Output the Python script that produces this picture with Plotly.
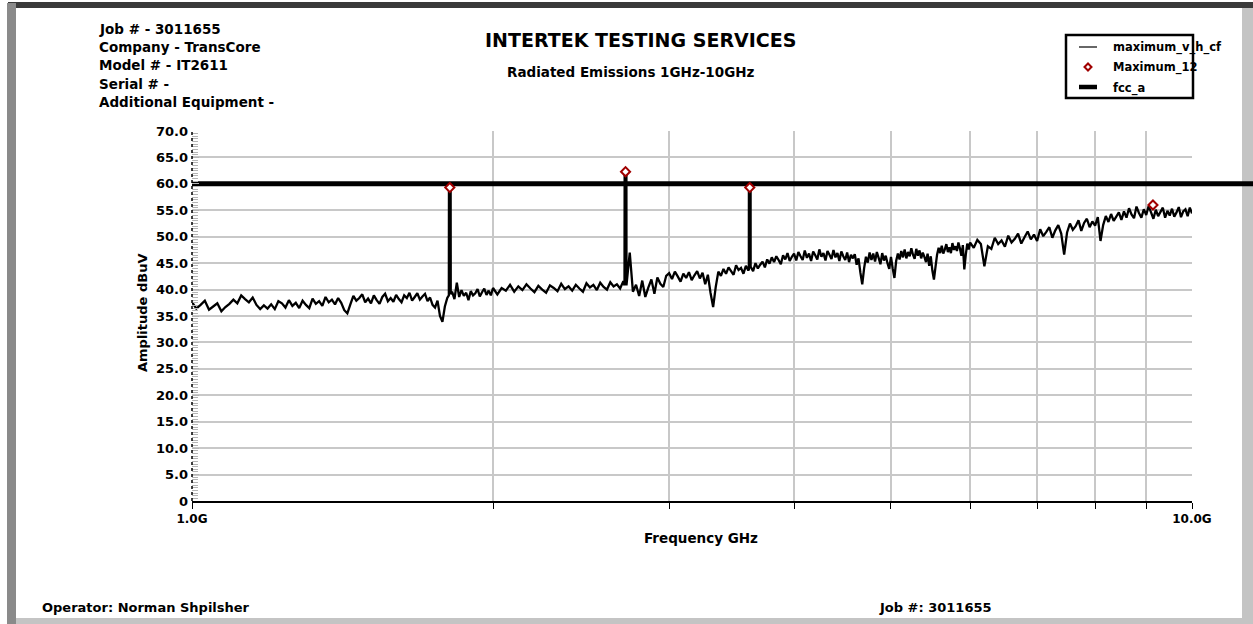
import plotly.graph_objects as go

# ---------------- data ----------------
freq_a = [1.00, 1.01, 1.02, 1.03, 1.04, 1.05, 1.06, 1.07, 1.08, 1.09,
          1.10, 1.11, 1.12, 1.13, 1.14, 1.15, 1.16, 1.17, 1.18, 1.19,
          1.20, 1.21, 1.22, 1.23, 1.24, 1.25, 1.26, 1.27, 1.28, 1.29,
          1.30, 1.31, 1.32, 1.33, 1.34, 1.35, 1.36, 1.37, 1.38, 1.39,
          1.40, 1.41, 1.42, 1.43, 1.44, 1.45, 1.46, 1.47, 1.48, 1.49,
          1.50, 1.51, 1.52, 1.53, 1.54, 1.55, 1.56, 1.57, 1.58, 1.59,
          1.60, 1.61, 1.62, 1.63, 1.64, 1.65, 1.66, 1.67, 1.68, 1.69,
          1.70, 1.71, 1.72, 1.73, 1.74, 1.75, 1.76, 1.77, 1.78, 1.79,
          1.80, 1.82, 1.83, 1.84, 1.85, 1.86, 1.87, 1.88, 1.89,
          1.90, 1.91, 1.92, 1.93, 1.94, 1.95, 1.96, 1.97, 1.98, 1.99, 2.00]
amp_a = [37.6, 36.4, 37.1, 37.9, 36.2, 36.8, 37.4, 35.9, 36.7, 37.3,
         38.1, 37.4, 38.9, 38.2, 37.6, 38.5, 37.1, 36.3, 37.0, 36.4,
         37.2, 36.3, 37.8, 37.4, 36.6, 38.0, 36.9, 37.5, 36.5, 37.9,
         37.1, 36.5, 38.3, 37.3, 37.8, 36.9, 38.6, 37.6, 38.1, 37.2,
         38.4, 37.5, 36.1, 35.5, 37.2, 38.8, 37.9, 38.4, 39.1, 37.6,
         38.3, 37.4, 38.9, 38.0, 37.3, 38.6, 39.2, 37.8, 38.4, 37.7,
         39.0, 38.2, 37.6, 38.9, 38.4, 39.4, 37.9, 38.6, 39.3, 38.1,
         38.7, 39.2, 37.8, 38.5, 37.1, 36.6, 37.9, 35.0, 33.9, 36.8,
         38.4, 39.6, 38.2, 41.3, 38.6, 39.9, 38.8, 39.4, 38.0,
         39.7, 38.9, 39.3, 40.1, 38.7, 39.5, 40.2, 39.0, 39.8, 38.9, 40.3]

freq_b = [2.02, 2.04, 2.06, 2.08, 2.10, 2.12, 2.14, 2.16, 2.18, 2.20,
          2.22, 2.24, 2.26, 2.28, 2.30, 2.32, 2.34, 2.36, 2.38, 2.40,
          2.42, 2.44, 2.46, 2.48, 2.50, 2.52, 2.54, 2.56, 2.58, 2.60,
          2.62, 2.64, 2.66, 2.68, 2.70, 2.72, 2.74, 2.76, 2.78, 2.80,
          2.82, 2.84, 2.86, 2.88, 2.90, 2.92, 2.94, 2.96, 2.98, 3.00,
          3.02, 3.04, 3.06, 3.08, 3.10, 3.12, 3.14, 3.16, 3.18, 3.20,
          3.22, 3.24, 3.26, 3.28, 3.30, 3.32, 3.34, 3.36, 3.38, 3.40,
          3.42, 3.44, 3.46, 3.48, 3.50, 3.52, 3.54, 3.56, 3.58, 3.60,
          3.62, 3.64, 3.66, 3.68, 3.70, 3.72, 3.74, 3.76, 3.78, 3.80,
          3.82, 3.84, 3.86, 3.88, 3.90, 3.92, 3.94, 3.96, 3.98, 4.00]
amp_b = [39.1, 40.3, 39.8, 40.9, 39.6, 40.6, 39.9, 41.0, 40.2, 39.5,
         40.7, 40.0, 39.4, 40.8, 40.3, 39.7, 41.1, 40.1, 40.6, 39.8,
         40.9, 40.2, 39.6, 41.2, 40.4, 40.9, 39.9, 41.3, 40.5, 40.0,
         41.4, 40.6, 41.0, 40.2, 41.6, 41.0, 47.0, 39.6, 40.9, 38.8,
         41.7, 38.6, 40.4, 41.9, 39.2, 42.3, 41.1, 40.5, 42.6, 43.1,
         42.0, 43.4, 42.5, 41.5, 43.0, 42.2, 43.3, 41.8, 42.7, 43.5,
         42.1, 43.2, 41.0, 42.8, 39.4, 36.7, 40.5, 43.4, 42.6, 43.9,
         43.0, 44.2, 43.5, 42.8, 44.6, 43.7, 44.1, 43.0, 44.5, 43.6,
         44.3, 43.5, 45.0, 44.0, 44.7, 45.3, 44.2, 45.7, 44.9, 46.1,
         45.2, 46.3, 45.6, 44.8, 46.5, 45.7, 46.9, 45.4, 46.2, 46.8]

freq_c = [4.02, 4.04, 4.06, 4.08, 4.10, 4.12, 4.14, 4.16, 4.18, 4.20,
          4.22, 4.24, 4.26, 4.28, 4.30, 4.32, 4.34, 4.36, 4.38, 4.40,
          4.42, 4.44, 4.46, 4.48, 4.50, 4.52, 4.54, 4.56, 4.58, 4.60,
          4.62, 4.64, 4.66, 4.68, 4.70, 4.72, 4.74, 4.76, 4.78, 4.80,
          4.82, 4.84, 4.86, 4.88, 4.90, 4.92, 4.94, 4.96, 4.98, 5.00,
          5.02, 5.04, 5.06, 5.08, 5.10, 5.12, 5.14, 5.16, 5.18, 5.20,
          5.22, 5.24, 5.26, 5.28, 5.30, 5.32, 5.34, 5.36, 5.38, 5.40,
          5.42, 5.44, 5.46, 5.48, 5.50, 5.52, 5.54, 5.56, 5.58, 5.60,
          5.62, 5.64, 5.66, 5.68, 5.70, 5.72, 5.74, 5.76, 5.78, 5.80,
          5.82, 5.84, 5.86, 5.88, 5.90, 5.92, 5.94, 5.96, 5.98, 6.00]
amp_c = [45.5, 47.1, 46.3, 45.6, 47.4, 46.0, 46.8, 45.4, 47.2, 46.5,
         45.7, 47.6, 46.2, 46.9, 45.5, 47.3, 46.6, 45.8, 47.5, 46.1,
         46.9, 45.4, 47.2, 46.3, 45.6, 47.0, 45.2, 46.6, 45.9, 46.7,
         44.7, 45.9, 43.2, 41.0, 44.0, 46.2, 45.1, 47.0, 45.6, 46.8,
         45.3, 47.1, 46.0, 44.8, 46.9, 45.5, 46.4, 45.0, 43.9, 46.2,
         44.0, 42.2, 45.4, 46.8, 45.7, 47.3, 46.1, 47.6, 45.9, 47.1,
         46.3, 47.8, 46.6, 45.8, 47.7, 46.4, 47.4, 45.9, 47.0, 46.2,
         45.2, 46.8, 44.5, 46.3, 43.6, 41.9, 44.3, 46.6, 47.9, 46.9,
         48.3, 46.8, 47.6, 48.6, 47.1, 48.0, 46.9, 48.8, 47.5, 48.2,
         47.3, 48.9, 47.8, 46.4, 48.4, 43.8, 46.6, 48.7, 47.6, 48.9]

freq_d = [6.05, 6.10, 6.15, 6.20, 6.25, 6.30, 6.35, 6.40, 6.45, 6.50,
          6.55, 6.60, 6.65, 6.70, 6.75, 6.80, 6.85, 6.90, 6.95, 7.00,
          7.05, 7.10, 7.15, 7.20, 7.25, 7.30, 7.35, 7.40, 7.45, 7.50,
          7.55, 7.60, 7.65, 7.70, 7.75, 7.80, 7.85, 7.90, 7.95, 8.00,
          8.05, 8.10, 8.15, 8.20, 8.25, 8.30, 8.35, 8.40, 8.45, 8.50,
          8.55, 8.60, 8.65, 8.70, 8.75, 8.80, 8.85, 8.90, 8.95, 9.00,
          9.05, 9.10, 9.15, 9.20, 9.25, 9.30, 9.35, 9.40, 9.45, 9.50,
          9.55, 9.60, 9.65, 9.70, 9.75, 9.80, 9.85, 9.90, 9.95, 10.00]
amp_d = [47.9, 49.4, 48.6, 44.4, 48.2, 47.7, 49.8, 48.6, 49.3, 48.1,
         50.2, 48.9, 49.6, 50.6, 48.7, 49.9, 51.0, 49.5, 50.4, 49.2,
         51.4, 50.1, 50.9, 51.8, 49.8, 51.2, 52.2, 50.6, 46.6, 50.8,
         52.5, 51.3, 52.0, 53.1, 51.1, 52.6, 53.4, 51.8, 52.9, 52.1,
         53.7, 49.2, 52.2, 53.9, 52.8, 54.3, 53.0, 53.8, 54.6, 53.2,
         54.8, 53.6, 55.4, 54.2, 53.5, 55.7, 54.5, 53.6, 55.2, 54.1,
         55.8, 54.6, 53.4, 55.1, 53.9, 54.7, 55.5, 53.6, 54.9, 54.0,
         55.3, 53.8, 54.6, 55.6, 53.7, 54.8, 55.2, 53.9, 55.5, 54.4]

# narrow emission spikes (harmonics)
spike_freq = [1.8065, 1.807, 1.814, 1.8145,
              2.707, 2.708, 2.719, 2.7195,
              3.6045, 3.605, 3.619, 3.6195]
spike_amp = [38.9, 59.2, 59.0, 39.1,
             40.8, 62.0, 62.3, 41.0,
             43.8, 59.3, 59.1, 44.0]

# peak markers (Maximum_12)
max_freq = [1.8105, 2.7135, 3.612, 9.14]
max_amp = [59.3, 62.3, 59.3, 56.0]

# limit line (fcc_a)
fcc_freq = [1.0, 10.0]
fcc_level = [60.0, 60.0]

y_ticks = [0, 5, 10, 15, 20, 25, 30, 35, 40, 45, 50, 55, 60, 65, 70]
y_tick_labels = ["0", "5.0", "10.0", "15.0", "20.0", "25.0", "30.0", "35.0",
                 "40.0", "45.0", "50.0", "55.0", "60.0", "65.0", "70.0"]
x_ticks = [1, 2, 3, 4, 5, 6, 7, 8, 9, 10]
x_tick_labels = ["1.0G", "", "", "", "", "", "", "", "", "10.0G"]

header_lines = ["Job # - 3011655", "Company - TransCore", "Model # - IT2611",
                "Serial # -", "Additional Equipment -"]
legend_names = ["maximum_v_h_cf", "Maximum_12", "fcc_a"]

# ---------------- layout helpers (pixel -> paper) ----------------
W, H = 1253, 624
L, R, T, B = 192, 61, 131, 123
PW, PH = W - L - R, H - T - B


def px(x):
    return (x - L) / PW


def py(y):
    return (H - B - y) / PH


FONT = "DejaVu Sans, Verdana, sans-serif"


def bold(size):
    return dict(size=size, family=FONT, weight="bold", color="black")


pairs = sorted(zip(freq_a + freq_b + freq_c + freq_d + spike_freq,
                   amp_a + amp_b + amp_c + amp_d + spike_amp))
trace_f = [p[0] for p in pairs]
trace_a = [p[1] for p in pairs]

fig = go.Figure()
fig.add_trace(go.Scatter(x=trace_f, y=trace_a, mode="lines", name=legend_names[0],
                         line=dict(color="black", width=2.3, simplify=False),
                         hoverinfo="skip"))
fig.add_trace(go.Scatter(x=fcc_freq, y=fcc_level, mode="lines", name=legend_names[2],
                         line=dict(color="black", width=5), hoverinfo="skip"))
fig.add_trace(go.Scatter(x=max_freq, y=max_amp, mode="markers", name=legend_names[1],
                         marker=dict(symbol="diamond", size=7, color="white",
                                     line=dict(color="#a00000", width=2)),
                         cliponaxis=False, hoverinfo="skip"))

shapes = []
# outer panel frame
shapes.append(dict(type="rect", xref="paper", yref="paper", x0=px(8), x1=px(1253),
                   y0=py(2), y1=py(8), fillcolor="#3a3a3a", line=dict(width=0), layer="below"))
shapes.append(dict(type="rect", xref="paper", yref="paper", x0=px(7), x1=px(16),
                   y0=py(3), y1=py(624), fillcolor="#8a8a8a", line=dict(width=0), layer="below"))
shapes.append(dict(type="rect", xref="paper", yref="paper", x0=px(1242), x1=px(1253),
                   y0=py(8), y1=py(624), fillcolor="#c4c4c4", line=dict(width=0), layer="below"))
shapes.append(dict(type="rect", xref="paper", yref="paper", x0=px(16), x1=px(1253),
                   y0=py(618), y1=py(624), fillcolor="#c4c4c4", line=dict(width=0), layer="below"))
# dotted y axis line
shapes.append(dict(type="line", xref="paper", yref="y", x0=0, x1=0, y0=y_ticks[0], y1=y_ticks[-1],
                   line=dict(color="black", width=1.5, dash="dot"), layer="above"))
# continuation of the limit line past the plot edge
shapes.append(dict(type="line", xref="paper", yref="y", x0=1, x1=px(1253),
                   y0=fcc_level[-1], y1=fcc_level[-1],
                   line=dict(color="black", width=5), layer="above"))
# legend box
shapes.append(dict(type="rect", xref="paper", yref="paper", x0=px(1066), x1=px(1193),
                   y0=py(98), y1=py(35), line=dict(color="black", width=2.5), layer="above"))
shapes.append(dict(type="line", xref="paper", yref="paper", x0=px(1079), x1=px(1097),
                   y0=py(47), y1=py(47), line=dict(color="black", width=1.2)))
shapes.append(dict(type="path", xref="paper", yref="paper", xsizemode="pixel", ysizemode="pixel",
                   xanchor=px(1088), yanchor=py(67), path="M-3.5,0L0,3.5L3.5,0L0,-3.5Z",
                   fillcolor="white", line=dict(color="#a00000", width=2)))
shapes.append(dict(type="line", xref="paper", yref="paper", x0=px(1079), x1=px(1097),
                   y0=py(87), y1=py(87), line=dict(color="black", width=4.5)))

ann = []
for i, t in enumerate(header_lines):
    ann.append(dict(text=t, x=px(97), y=py(29.3 + 18.1 * i), xanchor="left", yanchor="middle",
                    font=bold(13.5)))
ann.append(dict(text="INTERTEK TESTING SERVICES", x=px(640), y=py(40), xanchor="center",
                yanchor="middle", font=bold(19)))
ann.append(dict(text="Radiated Emissions 1GHz-10GHz", x=px(631), y=py(72), xanchor="center",
                yanchor="middle", font=bold(13.5)))
for i, t in enumerate(legend_names):
    ann.append(dict(text=t, x=px(1111), y=py([47, 67.5, 88][i]), xanchor="left", yanchor="middle",
                    font=bold(11.5)))
ann.append(dict(text="Amplitude dBuV", x=px(142), y=py(313), xanchor="center", yanchor="middle",
                textangle=-90, font=bold(13)))
ann.append(dict(text="Frequency GHz", x=px(701), y=py(538), xanchor="center", yanchor="middle",
                font=bold(13.5)))
ann.append(dict(text="Operator: Norman Shpilsher", x=px(40), y=py(607), xanchor="left",
                yanchor="middle", font=bold(13)))
ann.append(dict(text="Job #: 3011655", x=px(877), y=py(607), xanchor="left", yanchor="middle",
                font=bold(13)))
for a in ann:
    a.update(xref="paper", yref="paper", showarrow=False)

fig.update_layout(
    width=W, height=H, autosize=False,
    margin=dict(l=L, r=R, t=T, b=B, pad=0),
    paper_bgcolor="white", plot_bgcolor="white",
    showlegend=False,
    font=dict(family=FONT, size=12, color="black", weight="bold"),
    shapes=shapes, annotations=ann,
    xaxis=dict(type="log", range=[0, 1], tickmode="array", tickvals=x_ticks, ticktext=x_tick_labels,
               showgrid=True, gridcolor="#c8c8c8", gridwidth=1.5,
               showline=True, linecolor="black", linewidth=2,
               ticks="outside", ticklen=6, tickwidth=1, tickcolor="black",
               tickfont=bold(12), zeroline=False, fixedrange=True),
    yaxis=dict(range=[0, 70], tickmode="array", tickvals=y_ticks, ticktext=y_tick_labels,
               showgrid=True, gridcolor="#c8c8c8", gridwidth=1.5,
               showline=False, zeroline=False,
               ticks="inside", ticklen=7, tickwidth=1, tickcolor="#b4b4b4",
               minor=dict(dtick=0.5, tick0=0, ticks="inside", ticklen=6, tickwidth=1,
                          tickcolor="#b4b4b4", showgrid=False),
               tickfont=bold(13), ticklabelstandoff=3, fixedrange=True),
)

fig.write_html("out.html", config={"displayModeBar": False},
               post_script="document.body.style.margin='0px';")
